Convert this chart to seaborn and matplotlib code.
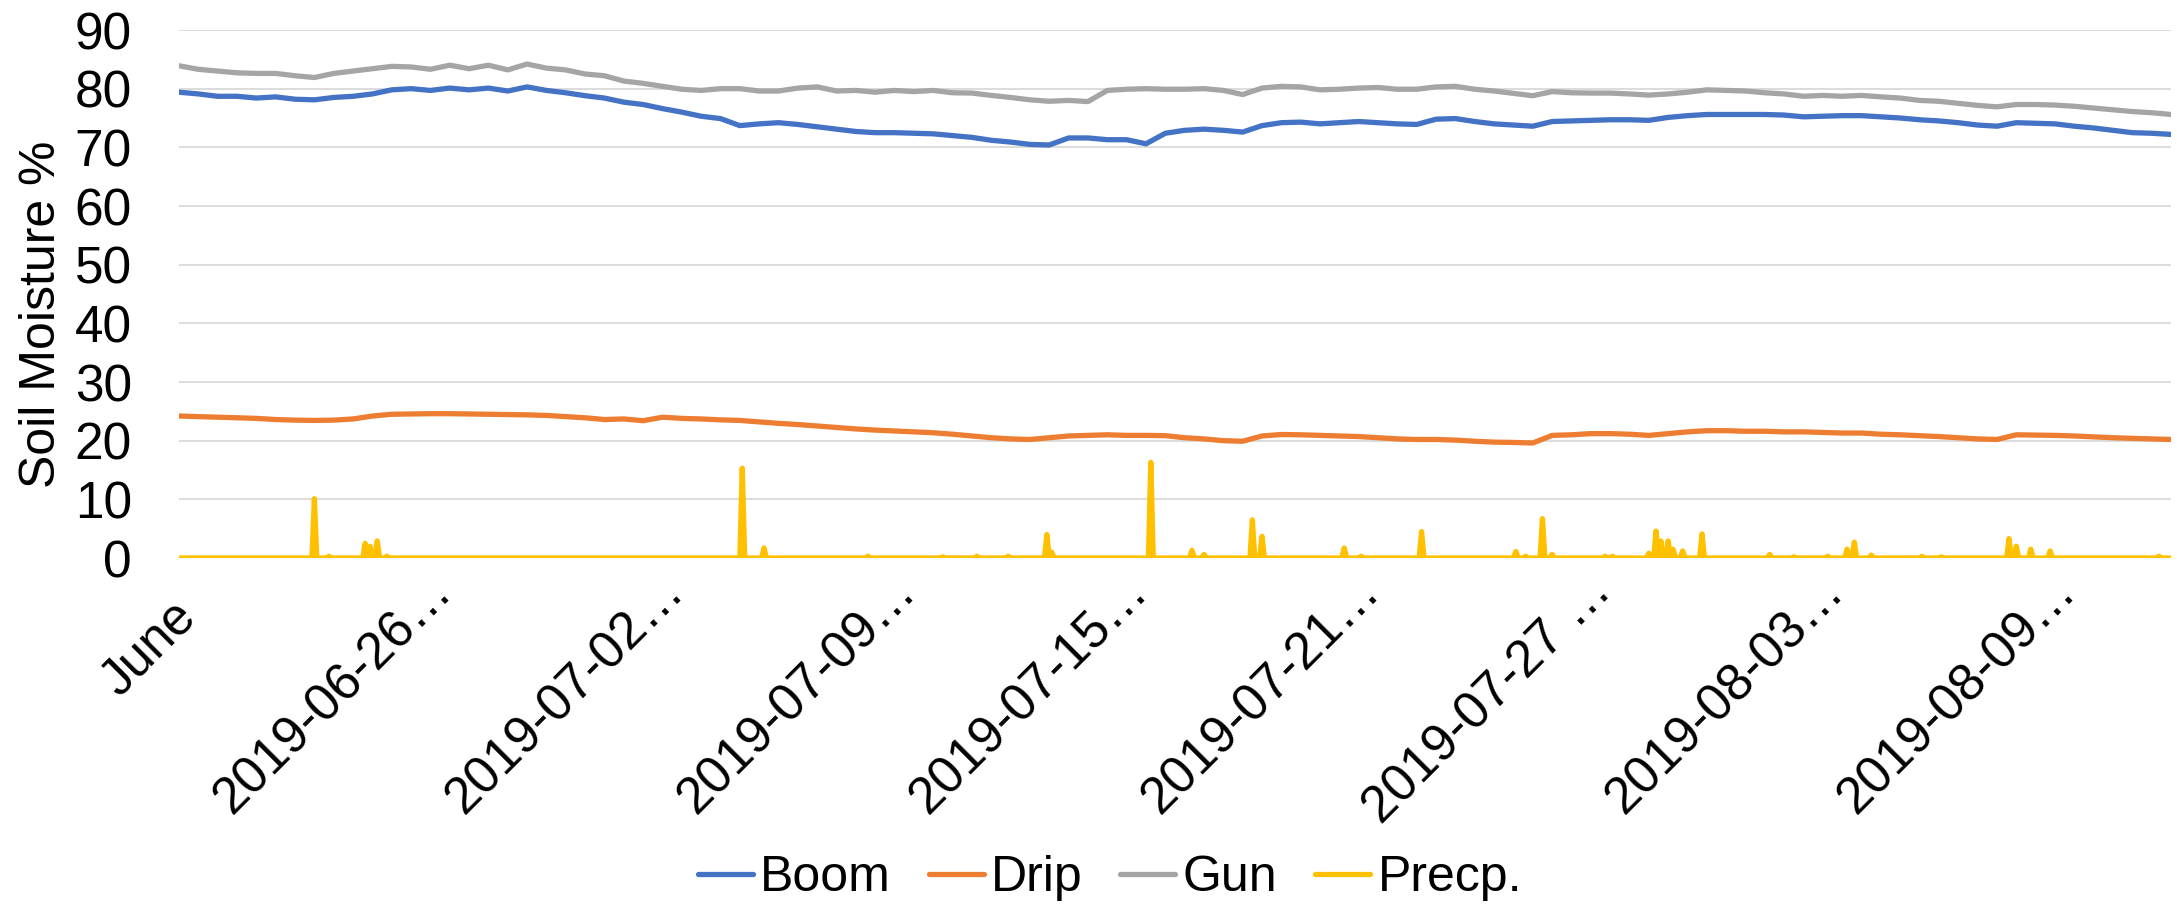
import numpy as np
import pandas as pd
import matplotlib
matplotlib.use("Agg")
import matplotlib.pyplot as plt
import matplotlib.transforms as mtransforms
import seaborn as sns

# ------------------------------------------------------------
# data
# records on a category axis; soil moisture read every 8th record,
# precipitation listed as the records where it is non-zero
# ------------------------------------------------------------
n_records = 825
soil_step = 8

boom = [79.4, 79.1, 78.7, 78.7, 78.4, 78.6, 78.2, 78.1, 78.5, 78.7,
        79.1, 79.8, 80.0, 79.7, 80.1, 79.8, 80.1, 79.6, 80.3, 79.7,
        79.3, 78.8, 78.4, 77.7, 77.3, 76.6, 76.0, 75.3, 74.9, 73.7,
        74.0, 74.2, 73.9, 73.5, 73.1, 72.7, 72.5, 72.5, 72.4, 72.3,
        72.0, 71.7, 71.2, 70.9, 70.5, 70.4, 71.6, 71.6, 71.3, 71.3,
        70.6, 72.4, 72.9, 73.1, 72.9, 72.6, 73.7, 74.2, 74.3, 74.0,
        74.2, 74.4, 74.2, 74.0, 73.9, 74.8, 74.9, 74.4, 74.0, 73.8,
        73.6, 74.4, 74.5, 74.6, 74.7, 74.7, 74.6, 75.1, 75.4, 75.6,
        75.6, 75.6, 75.6, 75.5, 75.2, 75.3, 75.4, 75.4, 75.2, 75.0,
        74.7, 74.5, 74.2, 73.8, 73.6, 74.2, 74.1, 74.0, 73.6, 73.3,
        72.9, 72.5, 72.4, 72.2]

drip = [24.2, 24.1, 24.0, 23.9, 23.8, 23.6, 23.5, 23.45, 23.5, 23.7,
        24.2, 24.5, 24.55, 24.6, 24.6, 24.55, 24.5, 24.45, 24.4, 24.3,
        24.1, 23.9, 23.6, 23.7, 23.4, 24.0, 23.8, 23.7, 23.55, 23.45,
        23.2, 22.95, 22.75, 22.5, 22.25, 22.0, 21.8, 21.65, 21.5, 21.35,
        21.1, 20.8, 20.5, 20.3, 20.2, 20.5, 20.8, 20.9, 21.0, 20.9,
        20.9, 20.85, 20.5, 20.3, 20.0, 19.9, 20.8, 21.05, 21.0, 20.9,
        20.8, 20.7, 20.5, 20.3, 20.2, 20.2, 20.1, 19.9, 19.75, 19.7,
        19.6, 20.9, 21.0, 21.2, 21.2, 21.1, 20.9, 21.2, 21.5, 21.7,
        21.7, 21.6, 21.6, 21.5, 21.5, 21.4, 21.3, 21.3, 21.1, 21.0,
        20.85, 20.7, 20.5, 20.3, 20.2, 21.0, 20.95, 20.9, 20.8, 20.65,
        20.5, 20.4, 20.3, 20.2]

gun = [83.9, 83.3, 83.0, 82.7, 82.6, 82.6, 82.2, 81.9, 82.6, 83.0,
       83.4, 83.8, 83.7, 83.3, 84.0, 83.4, 84.0, 83.2, 84.2, 83.5,
       83.2, 82.5, 82.2, 81.3, 80.9, 80.4, 79.9, 79.7, 80.0, 80.0,
       79.6, 79.6, 80.1, 80.3, 79.6, 79.7, 79.4, 79.7, 79.5, 79.7,
       79.3, 79.25, 78.85, 78.5, 78.1, 77.85, 78.0, 77.8, 79.7, 79.9,
       80.0, 79.9, 79.9, 80.0, 79.7, 79.0, 80.1, 80.4, 80.3, 79.8,
       79.9, 80.1, 80.2, 79.9, 79.9, 80.3, 80.4, 79.9, 79.6, 79.2,
       78.8, 79.5, 79.3, 79.25, 79.25, 79.1, 78.9, 79.1, 79.4, 79.8,
       79.7, 79.6, 79.3, 79.1, 78.7, 78.85, 78.7, 78.85, 78.6, 78.4,
       78.0, 77.85, 77.5, 77.15, 76.9, 77.3, 77.3, 77.2, 77.0, 76.7,
       76.4, 76.1, 75.9, 75.6]

precip_record = [56, 62, 77, 79, 82, 86, 233, 242, 285, 316, 330, 343,
                 359, 361, 402, 419, 424, 444, 448, 482, 489, 514, 553,
                 557, 564, 568, 590, 593, 608, 611, 613, 616, 618, 622,
                 630, 658, 668, 682, 690, 693, 700, 721, 729, 757, 760,
                 766, 774, 819]
precip_value = [10.1, 0.3, 2.5, 2.0, 2.9, 0.3, 15.3, 1.7, 0.3, 0.2, 0.3, 0.3,
                4.0, 1.0, 16.3, 1.3, 0.6, 6.5, 3.7, 1.7, 0.3, 4.5, 1.1,
                0.3, 6.7, 0.6, 0.3, 0.3, 0.8, 4.6, 2.9, 2.9, 1.5, 1.2,
                4.1, 0.6, 0.2, 0.3, 1.5, 2.7, 0.5, 0.3, 0.2, 3.3, 2.0,
                1.5, 1.2, 0.3]

tick_records = [0, 96, 192, 288, 384, 480, 576, 672, 768]
tick_labels = ["June", "2019-06-26\u2026", "2019-07-02\u2026", "2019-07-09\u2026",
               "2019-07-15\u2026", "2019-07-21\u2026", "2019-07-27 \u2026",
               "2019-08-03\u2026", "2019-08-09\u2026"]

series_names = ["Boom", "Drip", "Gun", "Precp."]
colours = ["#4472C4", "#ED7D31", "#A5A5A5", "#FFC000"]

# ------------------------------------------------------------
# long-form table for seaborn
# ------------------------------------------------------------
soil_x = np.arange(0, n_records, soil_step)
precip = np.zeros(n_records)
precip[precip_record] = precip_value

frames = []
for name, vals in zip(series_names[:3], [boom, drip, gun]):
    frames.append(pd.DataFrame({"record": soil_x, "value": vals, "series": name}))
frames.append(pd.DataFrame({"record": np.arange(n_records), "value": precip,
                            "series": "Precp."}))
df = pd.concat(frames, ignore_index=True)

# ------------------------------------------------------------
# plot
# ------------------------------------------------------------
sns.set_theme(style="white")
plt.rcParams["font.family"] = ["Liberation Sans", "DejaVu Sans"]

fig = plt.figure(figsize=(21.77, 9.09), dpi=100)
ax = fig.add_axes([179 / 2177, 1 - 558 / 909, (2171 - 179) / 2177, 528 / 909])

sns.lineplot(data=df, x="record", y="value", hue="series",
             hue_order=series_names, palette=colours,
             estimator=None, sort=False, linewidth=3.8, ax=ax, legend=False)
for line in ax.lines:
    line.set_solid_capstyle("round")
    line.set_solid_joinstyle("round")

ax.set_xlim(0, n_records - 1)
ax.set_ylim(0, 90)
ax.set_yticks(range(0, 91, 10))
ax.yaxis.grid(True, color="#D9D9D9", linewidth=1.3)
ax.set_axisbelow(True)
for s in ax.spines.values():
    s.set_visible(False)

ax.tick_params(axis="y", length=0, pad=34, labelsize=37, labelcolor="black")
ax.tick_params(axis="x", length=0, pad=6, labelsize=37, labelcolor="black")
ax.set_xticks(tick_records)
ax.set_xticklabels(tick_labels, rotation=45, ha="right", va="top",
                   rotation_mode="anchor")
# Excel puts the rotated labels a little right of the category;
# the short first label sits further down its diagonal
shift = mtransforms.ScaledTranslation(16 / 100, 0, fig.dpi_scale_trans)
shift_first = mtransforms.ScaledTranslation(-8 / 100, -26 / 100, fig.dpi_scale_trans)
for i, lbl in enumerate(ax.get_xticklabels()):
    lbl.set_transform(lbl.get_transform() + (shift_first if i == 0 else shift))

ax.set_xlabel("")
ax.set_ylabel("Soil Moisture %", fontsize=36, color="black")
ax.yaxis.set_label_coords(-0.057, 0.462)

handles = ax.lines[:4]
leg = fig.legend(handles, series_names, loc="center",
                 bbox_to_anchor=(1110 / 2177, 1 - 878 / 909), ncol=4, frameon=False,
                 fontsize=36, handlelength=1.1, handletextpad=0.15, columnspacing=0.75)
for t in leg.get_texts():
    t.set_color("black")

fig.savefig("out.png", dpi=100)
